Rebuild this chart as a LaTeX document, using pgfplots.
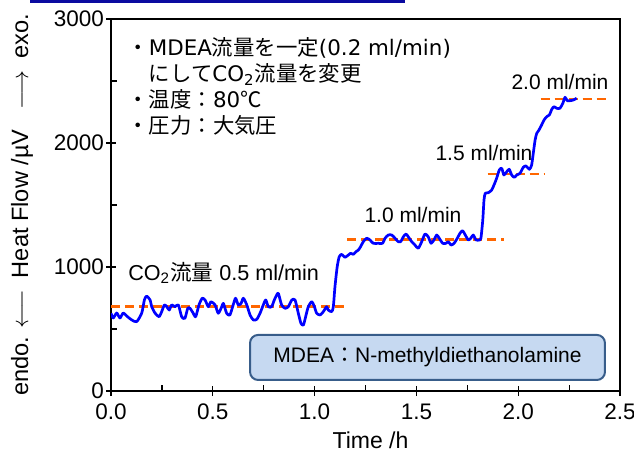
\documentclass[border=0pt]{standalone}
\usepackage{pgfplots}
\pgfplotsset{compat=1.18}
\usepackage{fontspec}
\setmainfont{Liberation Sans}
\newfontfamily\cjk{Noto Sans CJK JP}
\newfontfamily\dv{DejaVu Sans}
\definecolor{orng}{RGB}{255,102,0}
\definecolor{boxfill}{RGB}{198,217,241}
\definecolor{boxedge}{RGB}{56,93,138}
\definecolor{navy}{RGB}{10,10,160}
\begin{document}
\begin{tikzpicture}
\begin{axis}[name=ax, scale only axis, width=254.5pt, height=186pt,
  xmin=0, xmax=2.5, ymin=0, ymax=3000,
  xtick={0,0.5,1,1.5,2,2.5}, ytick={0,1000,2000,3000},
  minor x tick num=1, minor y tick num=1,
  xtick pos=bottom, ytick pos=left,
  tick align=inside, major tick length=5pt, minor tick length=3pt,
  every major x tick/.append style={yshift=-2.5pt},
  every major y tick/.append style={xshift=-2.5pt},
  axis line style={line width=0.75pt}, tick style={line width=0.6pt, black},
  /pgf/number format/assume math mode=true,
  xticklabel style={yshift=-3pt, /pgf/number format/.cd, fixed, fixed zerofill, precision=1},
  yticklabel style={/pgf/number format/.cd, fixed, 1000 sep={}},
  ticklabel style={font=\fontsize{11.25}{13}\selectfont},
  xlabel={Time /h}, xlabel style={font=\fontsize{11.5}{13}\selectfont, at={(axis description cs:0.5,-0.132)}, anchor=center, xshift=2.5pt},
  ylabel={endo.\hspace{4pt}$\longleftarrow$\hspace{6pt}Heat Flow /µV\hspace{10pt}$\longrightarrow$\hspace{6pt}exo.},
  ylabel style={font=\fontsize{11.8}{13}\selectfont, at={(axis description cs:-0.175,0.5)}, anchor=center},
]
% rounded text box
\draw[boxedge, fill=boxfill, line width=1pt, rounded corners=4pt] (axis cs:0.683,89) rectangle (axis cs:2.426,452);
\node[font=\fontsize{10.5}{12}\selectfont] at (axis cs:1.5545,270) {MDEA{\cjk ：}N-methyldiethanolamine};
% reference levels
\addplot[orng, line width=1.25pt, dash pattern=on 4.5pt off 2.5pt] coordinates {(0,680) (1.15,680)};
\addplot[orng, line width=1.25pt, dash pattern=on 4.5pt off 2.5pt] coordinates {(1.16,1220) (1.93,1220)};
\addplot[orng, line width=1.25pt, dash pattern=on 4.5pt off 2.5pt] coordinates {(1.85,1750) (2.13,1750)};
\addplot[orng, line width=1.25pt, dash pattern=on 4.5pt off 2.5pt] coordinates {(2.11,2355) (2.44,2355)};
% heat flow signal
\addplot[blue, line width=1.35pt, smooth, tension=0.4, line join=round] coordinates {
(0.000,627) (0.011,589) (0.028,629) (0.044,589) (0.060,629) (0.077,605) (0.102,573) (0.126,559)
(0.151,629) (0.164,734) (0.175,766) (0.192,734) (0.200,680) (0.216,629) (0.236,599) (0.249,640)
(0.262,694) (0.274,680) (0.286,653) (0.298,694) (0.314,680) (0.331,694) (0.347,599) (0.363,586)
(0.377,667) (0.388,667) (0.404,627) (0.416,599) (0.432,694) (0.448,748) (0.462,734) (0.478,680)
(0.491,720) (0.511,694) (0.527,627) (0.544,680) (0.552,707) (0.568,627) (0.584,613) (0.600,694)
(0.612,748) (0.625,694) (0.639,707) (0.650,748) (0.667,694) (0.683,613) (0.699,573) (0.716,578)
(0.732,627) (0.748,694) (0.760,734) (0.773,680) (0.789,680) (0.802,734) (0.814,774) (0.822,788)
(0.838,694) (0.855,667) (0.871,680) (0.888,734) (0.904,734) (0.920,627) (0.933,546) (0.945,532)
(0.956,599) (0.969,680) (0.986,720) (0.999,680) (1.010,627) (1.027,613) (1.043,640) (1.059,680)
(1.067,653) (1.084,640) (1.092,680) (1.100,841) (1.111,1002) (1.121,1083) (1.133,1102) (1.149,1078)
(1.166,1097) (1.177,1111) (1.190,1102) (1.203,1123) (1.215,1137) (1.226,1164) (1.239,1204) (1.256,1232)
(1.272,1218) (1.288,1191) (1.313,1191) (1.334,1191) (1.346,1232) (1.362,1258) (1.379,1258) (1.395,1232)
(1.411,1204) (1.423,1204) (1.436,1244) (1.449,1266) (1.460,1244) (1.477,1204) (1.493,1177) (1.509,1151)
(1.526,1204) (1.542,1266) (1.558,1244) (1.572,1191) (1.586,1218) (1.600,1258) (1.612,1232) (1.629,1191)
(1.645,1191) (1.657,1204) (1.670,1177) (1.685,1191) (1.701,1232) (1.714,1272) (1.727,1293) (1.740,1258)
(1.755,1218) (1.767,1232) (1.779,1258) (1.793,1218) (1.809,1218) (1.817,1234) (1.826,1379) (1.832,1540)
(1.838,1594) (1.853,1599) (1.870,1621) (1.881,1661) (1.894,1715) (1.907,1782) (1.919,1796) (1.930,1742)
(1.944,1769) (1.956,1788) (1.968,1742) (1.981,1723) (1.993,1742) (2.009,1756) (2.025,1804) (2.038,1815)
(2.055,1788) (2.066,1823) (2.074,1917) (2.083,2024) (2.091,2078) (2.102,2105) (2.115,2145) (2.127,2186)
(2.140,2212) (2.153,2226) (2.165,2272) (2.176,2293) (2.189,2280) (2.205,2280) (2.219,2320) (2.230,2369)
(2.241,2341) (2.254,2341) (2.271,2347) (2.287,2361)
};
% annotations
\node[anchor=west, inner sep=0pt, font=\fontsize{10.8}{12}\selectfont] at (axis cs:0.083,952) {CO\textsubscript{2}{\cjk 流量} 0.5 ml/min};
\node[font=\fontsize{10.5}{12}\selectfont] at (axis cs:1.483,1419) {1.0 ml/min};
\node[font=\fontsize{10.5}{12}\selectfont] at (axis cs:1.832,1919) {1.5 ml/min};
\node[font=\fontsize{10.5}{12}\selectfont] at (axis cs:2.205,2492) {2.0 ml/min};
\node[anchor=north west, inner sep=0pt, align=left, font=\cjk\fontsize{10.7}{13.1}\selectfont] at (axis cs:0.079,2856)
  {・{\dv MDEA}流量を一定{\dv (0.2 ml/min)}\\ \hphantom{・}にして{\dv CO\textsubscript{2}}流量を変更\\ ・温度：{\dv 80}℃\\ ・圧力：大気圧};
\end{axis}
\draw[navy, line width=1.5pt] ([xshift=-40.5pt,yshift=8.75pt]ax.north west) -- ([xshift=147pt,yshift=8.75pt]ax.north west);
\pgfresetboundingbox
\path ([xshift=-55.5pt,yshift=-34pt]ax.south west) rectangle ([xshift=7pt,yshift=9.5pt]ax.north east);
\end{tikzpicture}
\end{document}
